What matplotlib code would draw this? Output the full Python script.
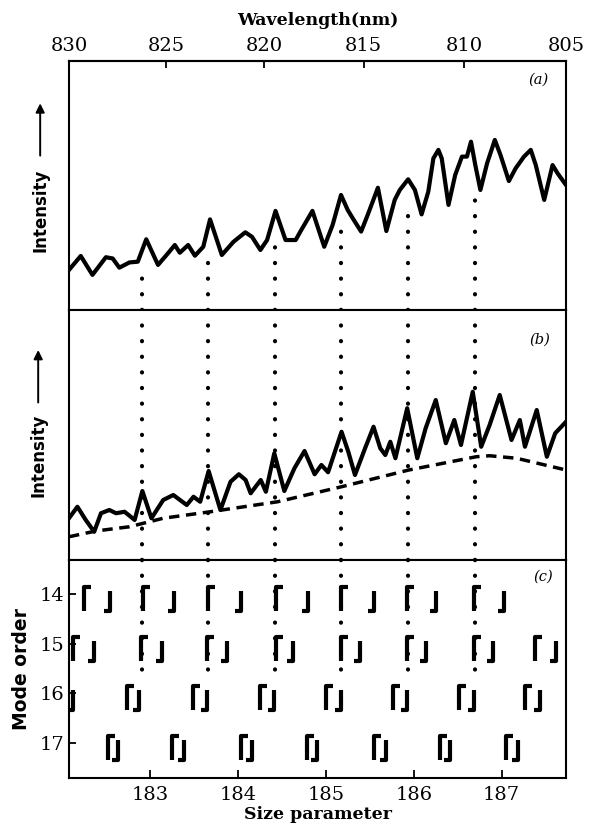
import numpy as np
import matplotlib
matplotlib.use("Agg")
import matplotlib.pyplot as plt
from matplotlib.path import Path

# ---------------- data ----------------
K = 151125.0  # size parameter x wavelength(nm)

wl_ticks = [830, 825, 820, 815, 810, 805]
size_ticks = [183, 184, 185, 186, 187]
mode_ticks = [14, 15, 16, 17]

# (a) measured spectrum
a_size = [182.078, 182.212, 182.345, 182.498, 182.575, 182.651, 182.766, 182.861, 182.957, 183.091,
          183.205, 183.282, 183.339, 183.434, 183.511, 183.606, 183.683, 183.817, 183.950, 184.084,
          184.160, 184.256, 184.332, 184.428, 184.542, 184.657, 184.714, 184.848, 184.982, 185.077,
          185.173, 185.249, 185.307, 185.402, 185.479, 185.593, 185.689, 185.784, 185.842, 185.937,
          186.014, 186.090, 186.166, 186.224, 186.281, 186.319, 186.396, 186.472, 186.549, 186.606,
          186.652, 186.701, 186.759, 186.835, 186.923, 186.988, 187.083, 187.160, 187.255, 187.332,
          187.389, 187.485, 187.580, 187.637, 187.733]
a_int = [16.1, 21.7, 14.1, 21.2, 20.7, 17.0, 19.1, 19.4, 28.4, 18.1,
         22.8, 26.1, 23.0, 26.1, 21.8, 25.4, 36.4, 22.1, 27.4, 31.2,
         29.4, 24.1, 28.1, 39.8, 28.1, 28.1, 31.7, 39.8, 25.4, 34.1,
         46.2, 40.2, 36.8, 31.5, 38.4, 49.1, 31.7, 44.2, 48.2, 52.5,
         48.2, 38.4, 47.5, 60.9, 64.3, 60.9, 42.2, 54.2, 61.6, 61.6,
         67.6, 58.2, 48.2, 58.9, 68.3, 62.2, 51.8, 56.9, 61.6, 64.3,
         58.2, 44.2, 58.2, 54.9, 50.2]

# (b) spectrum and smooth background (dashed)
b_size = [182.078, 182.174, 182.269, 182.365, 182.442, 182.537, 182.614, 182.710, 182.767, 182.825,
          182.913, 183.016, 183.150, 183.265, 183.341, 183.418, 183.495, 183.571, 183.667, 183.801,
          183.916, 184.011, 184.088, 184.145, 184.260, 184.318, 184.414, 184.528, 184.643, 184.758,
          184.873, 184.950, 185.026, 185.179, 185.256, 185.332, 185.447, 185.543, 185.620, 185.677,
          185.734, 185.792, 185.926, 186.041, 186.136, 186.251, 186.366, 186.462, 186.538, 186.672,
          186.768, 186.864, 186.979, 187.113, 187.208, 187.266, 187.400, 187.515, 187.610, 187.733]
b_int = [16.7, 21.3, 16.0, 11.3, 18.7, 20.0, 18.7, 19.3, 17.7, 16.0,
         27.6, 16.7, 24.0, 26.0, 24.0, 22.0, 25.3, 23.3, 35.6, 20.0,
         31.3, 34.3, 32.0, 26.7, 32.0, 27.3, 42.7, 27.6, 36.7, 43.6,
         34.3, 38.0, 35.1, 51.3, 43.3, 34.0, 44.7, 53.3, 44.7, 42.0,
         47.3, 40.7, 60.7, 40.7, 52.7, 64.0, 46.7, 56.0, 46.0, 67.3,
         45.3, 54.0, 66.0, 48.0, 56.0, 45.3, 60.0, 41.3, 50.7, 55.3]
bg_size = [182.078, 182.384, 182.767, 183.150, 183.686, 184.452, 185.179, 185.945, 186.711, 186.864, 187.170, 187.733]
bg_int = [9.3, 11.6, 13.3, 16.7, 19.3, 23.3, 29.3, 36.0, 41.3, 41.7, 40.7, 36.0]

# dotted guide lines (resonance positions) and their top in panel (a)
guide_size = [182.913, 183.665, 184.421, 185.174, 185.930, 186.694]
guide_top_a = [15, 24, 27, 37, 42, 50]
guide_bottom_c = 15.55

# (c) computed mode positions: two polarisations per mode order
m14_te = [182.247, 182.916, 183.663, 184.430, 185.177, 185.924, 186.691]
m14_tm = [182.542, 183.270, 184.037, 184.803, 185.551, 186.259, 187.026]
m15_te = [182.129, 182.896, 183.643, 184.430, 185.177, 185.924, 186.691, 187.380]
m15_tm = [182.365, 183.132, 183.879, 184.627, 185.393, 186.141, 186.908, 187.616]
m16_te = [181.980, 182.739, 183.486, 184.253, 185.000, 185.767, 186.514, 187.262]
m16_tm = [182.120, 182.876, 183.643, 184.410, 185.177, 185.924, 186.691, 187.439]
m17_te = [182.522, 183.250, 184.037, 184.784, 185.551, 186.298, 187.045]
m17_tm = [182.640, 183.388, 184.155, 184.902, 185.689, 186.416, 187.183]

# ---------------- figure ----------------
W, H = 594, 825
fig = plt.figure(figsize=(W / 100, H / 100), dpi=100)
fig.patch.set_facecolor("white")

L, R = 69, 566
def ax_rect(top, bottom):
    return [L / W, 1 - bottom / H, (R - L) / W, (bottom - top) / H]

axa = fig.add_axes(ax_rect(61, 310))
axb = fig.add_axes(ax_rect(310, 560))
axc = fig.add_axes(ax_rect(560, 778))

xlim = (K / 830, K / 805)
serif = "DejaVu Serif"
sans = "DejaVu Sans"
frame_lw = 1.5

for ax in (axa, axb, axc):
    ax.set_xlim(*xlim)
    for s in ax.spines.values():
        s.set_linewidth(frame_lw)
    ax.tick_params(which="both", direction="in", width=1.3, length=5)

for ax in (axa, axb):
    ax.set_ylim(0, 100)
    ax.set_xticks([])
    ax.set_yticks([])

lw_curve = 3.0
axa.plot(a_size, a_int, color="black", lw=lw_curve, solid_joinstyle="round")
axb.plot(b_size, b_int, color="black", lw=lw_curve, solid_joinstyle="round")
axb.plot(bg_size, bg_int, color="black", lw=2.5, linestyle=(0, (3.0, 1.9)))

dot_style = dict(color="black", lw=3.0, linestyle=(0, (0.05, 3.7)), dash_capstyle="round")
for xv, top in zip(guide_size, guide_top_a):
    axa.plot([xv, xv], [0, top], **dot_style)
    axb.plot([xv, xv], [0, 100], **dot_style)

# top wavelength axis
sec = axa.secondary_xaxis("top", functions=(lambda x: K / x, lambda w: K / w))
sec.set_xticks(wl_ticks)
sec.set_xticklabels([str(v) for v in wl_ticks], fontfamily=serif, fontsize=14)
sec.tick_params(direction="in", length=5, width=1.3, pad=4)
sec.spines["top"].set_linewidth(frame_lw)
sec.set_xlabel("Wavelength(nm)", fontfamily=serif, fontweight="bold", fontsize=12.5, labelpad=9)

# panel (c)
axc.set_ylim(17.70, 13.32)
axc.set_yticks(mode_ticks)
axc.set_yticklabels([str(v) for v in mode_ticks], fontfamily=serif, fontsize=14)
axc.set_xticks(size_ticks)
axc.set_xticklabels([str(v) for v in size_ticks], fontfamily=serif, fontsize=14)
axc.tick_params(axis="x", direction="in", length=6, pad=6)
axc.tick_params(axis="y", direction="in", length=5, pad=3)
axc.set_xlabel("Size parameter", fontfamily=serif, fontweight="bold", fontsize=12.5, labelpad=1)

for xv in guide_size:
    axc.plot([xv, xv], [13.32, guide_bottom_c], **dot_style)

gamma_path = Path([(0, -1), (0, 0.43), (0.42, 0.43)], [Path.MOVETO, Path.LINETO, Path.LINETO])
j_path = Path([(0, 0.15), (0, -1), (-0.36, -1)], [Path.MOVETO, Path.LINETO, Path.LINETO])
mk = dict(linestyle="none", markersize=25, markerfacecolor="none",
          markeredgecolor="black", markeredgewidth=3.0)
rows = [(14, m14_te, m14_tm), (15, m15_te, m15_tm), (16, m16_te, m16_tm), (17, m17_te, m17_tm)]
for order, te, tm in rows:
    axc.plot(te, [order] * len(te), marker=gamma_path, **mk)
    axc.plot(tm, [order] * len(tm), marker=j_path, **mk)

# axis annotations
def intensity_label(ax, xf, text_y, arrow_from, arrow_to):
    ax.text(xf, text_y, "Intensity", rotation=90, transform=ax.transAxes,
            ha="center", va="center", fontfamily=sans, fontsize=12, fontweight="bold")
    ax.annotate("", xy=(xf, arrow_to), xytext=(xf, arrow_from), xycoords="axes fraction",
                textcoords="axes fraction",
                arrowprops=dict(arrowstyle="-|>", lw=1.4, color="black", mutation_scale=13,
                                shrinkA=0, shrinkB=0), annotation_clip=False)

intensity_label(axa, -0.058, 0.40, 0.62, 0.83)
intensity_label(axb, -0.062, 0.42, 0.63, 0.84)
axc.text(-0.095, 0.50, "Mode order", rotation=90, transform=axc.transAxes,
         ha="center", va="center", fontfamily=sans, fontsize=13.5, fontweight="bold")

for ax, lab, xf, yf in ((axa, "(a)", 0.944, 0.925), (axb, "(b)", 0.948, 0.88), (axc, "(c)", 0.955, 0.925)):
    ax.text(xf, yf, lab, transform=ax.transAxes, ha="center", va="center",
            fontfamily=serif, fontstyle="italic", fontsize=10.5)

fig.savefig("out.png", dpi=100, facecolor="white")
